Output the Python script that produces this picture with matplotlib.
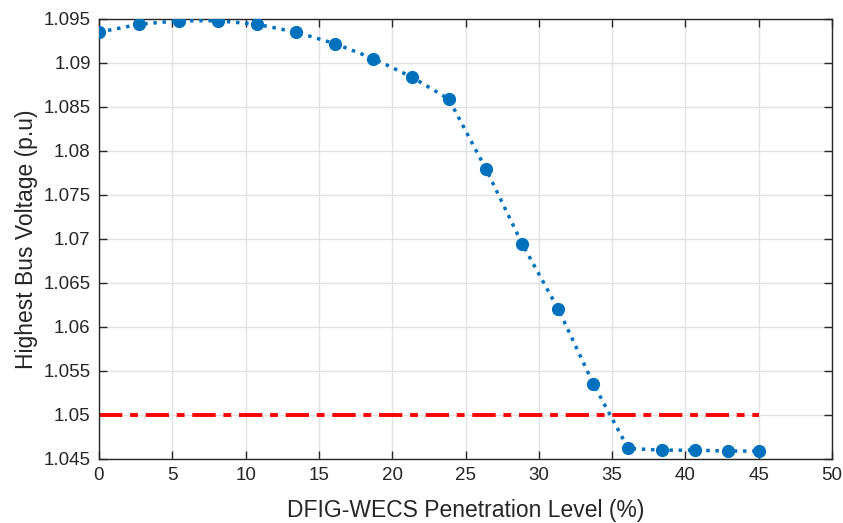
import matplotlib.pyplot as plt

plt.rcParams["font.family"] = ["Liberation Sans", "DejaVu Sans"]

# penetration level (%) and highest bus voltage (p.u)
penetration = [0, 2.75, 5.45, 8.1, 10.77, 13.45, 16.09, 18.72, 21.34, 23.86,
               26.38, 28.88, 31.34, 33.73, 36.1, 38.4, 40.65, 42.88, 45]
voltage = [1.0935, 1.0944, 1.0948, 1.0948, 1.0944, 1.0935, 1.0922, 1.0905,
           1.0884, 1.0859, 1.0780, 1.0694, 1.0620, 1.0535, 1.0462, 1.0460,
           1.0460, 1.0459, 1.0459]
limit_x = [0, 45]
limit_y = [1.05, 1.05]

fig = plt.figure(figsize=(8.43, 5.23), dpi=100)
ax = fig.add_axes([0.1174, 0.1224, 0.8696, 0.8413])

ax.plot(penetration, voltage, color='#0072BD', linestyle=':', linewidth=2.5,
        marker='o', markersize=8.5, zorder=3)
ax.plot(limit_x, limit_y, color='red', linestyle='-.', linewidth=2.8,
        dashes=(6, 2, 2, 2), zorder=2)

ax.set_xlim(0, 50)
ax.set_ylim(1.045, 1.095)
ax.set_xticks(range(0, 51, 5))
ax.set_yticks([1.045, 1.05, 1.055, 1.06, 1.065, 1.07, 1.075, 1.08, 1.085, 1.09, 1.095])
ax.set_yticklabels(['1.045', '1.05', '1.055', '1.06', '1.065', '1.07', '1.075',
                    '1.08', '1.085', '1.09', '1.095'])

ax.grid(True, color='#e2e2e2', linewidth=1)
ax.set_axisbelow(True)
ax.tick_params(direction='in', top=True, right=True, length=6, width=1,
               labelsize=13.5, colors='#262626', pad=6)
for s in ax.spines.values():
    s.set_color('#262626')
    s.set_linewidth(1)

ax.set_xlabel('DFIG-WECS Penetration Level (%)', fontsize=16.5, color='#262626')
ax.set_ylabel('Highest Bus Voltage (p.u)', fontsize=16.5, color='#262626')
ax.xaxis.set_label_coords(0.5, -0.09)
ax.yaxis.set_label_coords(-0.083, 0.5)

fig.savefig('out.png', dpi=100)
